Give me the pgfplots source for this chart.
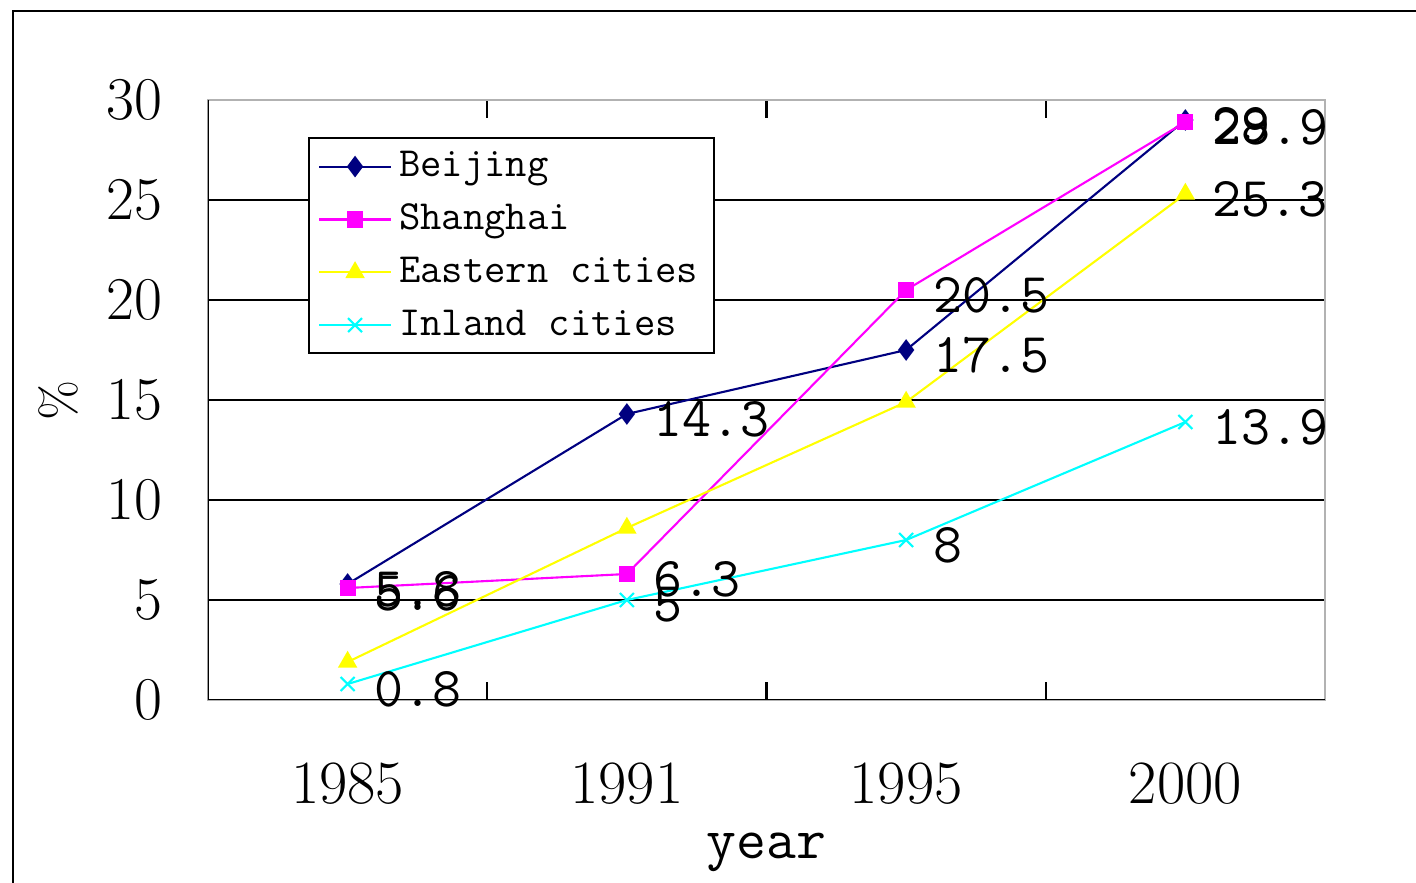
\documentclass[border=0pt]{standalone}
\usepackage{pgfplots}
\pgfplotsset{compat=1.18}
\usetikzlibrary{calc}
\definecolor{cbj}{RGB}{0,0,128}
\definecolor{csh}{RGB}{255,0,255}
\definecolor{cea}{RGB}{255,255,0}
\definecolor{cin}{RGB}{0,255,255}
\begin{document}
\begin{tikzpicture}
\begin{axis}[
  at={(0,0)}, anchor=south west,
  scale only axis, width=111.7mm, height=60mm,
  xmin=-0.5, xmax=3.5, ymin=0, ymax=30,
  xtick={0.5,1.5,2.5,3.5}, xticklabels={},
  extra x ticks={0,1,2,3},
  extra x tick labels={1985,1991,1995,2000},
  extra x tick style={major tick length=0pt},
  xticklabel style={yshift=-5.0mm, font=\fontsize{17.5}{20}\selectfont},
  ytick={0,5,...,30},
  ymajorgrids, grid style={black, line width=0.45pt},
  tick align=inside, major tick length=1.8mm,
  tick style={black, line width=0.6pt},
  axis line style={gray!60, line width=0.6pt},
  yticklabel style={xshift=-3.3mm, font=\fontsize{17}{20}\selectfont},
  xlabel={year},
  xlabel style={font=\ttfamily\fontsize{16.5}{19}\selectfont, at={(rel axis cs:0.5,0)}, anchor=center, yshift=-15.2mm},
  ylabel={\%},
  ylabel style={font=\fontsize{14}{16}\selectfont, at={(rel axis cs:0,0.5)}, anchor=center, yshift=15mm},
  legend style={at={(rel axis cs:0.0895,0.938)}, anchor=north west, draw=black, line width=0.6pt,
    font=\ttfamily\fontsize{11.8}{14}\selectfont, cells={anchor=west}, row sep=0.8mm,
    inner xsep=0.9mm, inner ysep=0.6mm},
  legend image code/.code={\draw[mark repeat=2,mark phase=2,#1] plot coordinates {(0.5mm,0mm) (4.1mm,0mm) (7.7mm,0mm)};},
  point meta=explicit symbolic,
  nodes near coords style={anchor=west, xshift=2.6mm, yshift=-0.5mm, font=\ttfamily\fontsize{16}{19}\selectfont, text=black, inner sep=0pt},
]
\addplot[cbj, line width=0.6pt, mark=diamond*, mark size=2.6pt, mark options={fill=cbj}, nodes near coords]
  coordinates {(0,5.8) [5.8] (1,14.3) [14.3] (2,17.5) [17.5] (3,29) [29]};
\addlegendentry{Beijing}
\addplot[csh, line width=0.6pt, mark=square*, mark size=2pt, mark options={fill=csh}, nodes near coords]
  coordinates {(0,5.6) [5.6] (1,6.3) [6.3] (2,20.5) [20.5] (3,28.9) [28.9]};
\addlegendentry{Shanghai}
\addplot[cea, line width=0.6pt, mark=triangle*, mark size=2.6pt, mark options={fill=cea}]
  coordinates {(0,1.9) (1,8.6) (2,14.9) (3,25.3)};
\addlegendentry{Eastern cities}
\addplot[cin, line width=0.6pt, mark=x, mark size=2.8pt, nodes near coords]
  coordinates {(0,0.8) [0.8] (1,5) [5] (2,8) [8] (3,13.9) [13.9]};
\addlegendentry{Inland cities}
\addplot[forget plot, draw=none, mark=none, nodes near coords]
  coordinates {(3,25.3) [25.3]};
\draw[black, line width=0.6pt] (rel axis cs:0,1) -- (rel axis cs:0,0) -- (rel axis cs:1,0);
\coordinate (ll) at (rel axis cs:0,0);
\end{axis}
\draw[black, line width=0.85pt] ($(ll)+(-19.5mm,-18.3mm)$) -- ($(ll)+(-19.5mm,68.9mm)$) -- ($(ll)+(120.8mm,68.9mm)$);
\pgfresetboundingbox
\path[use as bounding box] ($(ll)+(-20.8mm,-18.3mm)$) rectangle ++(141.6mm,88.3mm);
\end{tikzpicture}
\end{document}
